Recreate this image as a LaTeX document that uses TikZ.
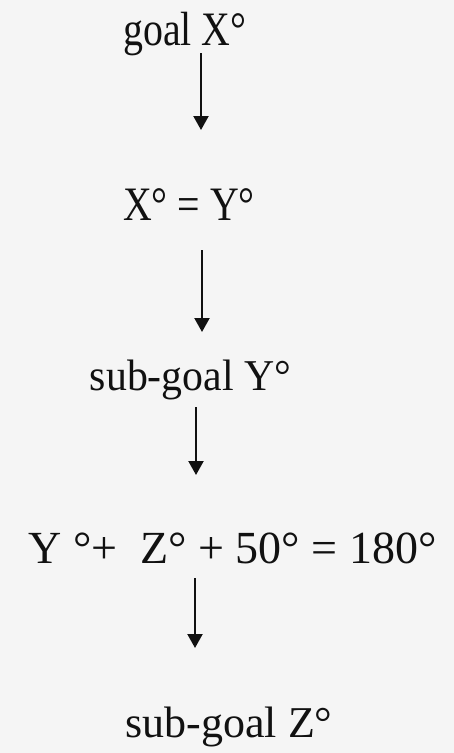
\documentclass[tikz,border=0pt]{standalone}
\usepackage{fontspec}
\usetikzlibrary{arrows.meta,positioning}
\setmainfont{Liberation Serif}
\newfontfamily\garfont[FakeStretch=0.83]{Liberation Serif}
\newfontfamily\subfont[FakeStretch=0.95]{Liberation Serif}
\definecolor{paper}{HTML}{F5F5F5}
\definecolor{ink}{HTML}{111111}
\tikzset{step text/.style={inner sep=0pt,anchor=base,text=ink},
  flow/.style={ink,line width=2.2pt,-{Triangle[length=14pt,width=15pt]}}}
\begin{document}
\begin{tikzpicture}[x=1pt,y=-1pt]
\fill[paper] (0,0) rectangle (454,753);
\node[step text,font=\garfont\fontsize{48}{48}\selectfont] (goal) at (185,45){goal X°};
\node[step text,font=\garfont\fontsize{48}{48}\selectfont] (eqXY) at (189,220){X° = Y°};
\node[step text,font=\subfont\fontsize{44}{44}\selectfont] (subY) at (190.5,390){sub-goal Y°};
\node[step text,font=\fontsize{46}{46}\selectfont] (sumYZ) at (232.5,563){Y °+ \ Z° + 50° = 180°};
\node[step text,font=\fontsize{44}{44}\selectfont] (subZ) at (229,737){sub-goal Z°};
% arrow ends
\coordinate (a1s) at (201,53);\coordinate (a1e) at (201,130);
\coordinate (a2s) at (202,250);\coordinate (a2e) at (202,332);
\coordinate (a3s) at (196,407);\coordinate (a3e) at (196,475);
\coordinate (a4s) at (195,578);\coordinate (a4e) at (195,648);
\foreach \s/\e in {a1s/a1e,a2s/a2e,a3s/a3e,a4s/a4e}{\draw[flow] (\s) -- (\e);}
\end{tikzpicture}
\end{document}
